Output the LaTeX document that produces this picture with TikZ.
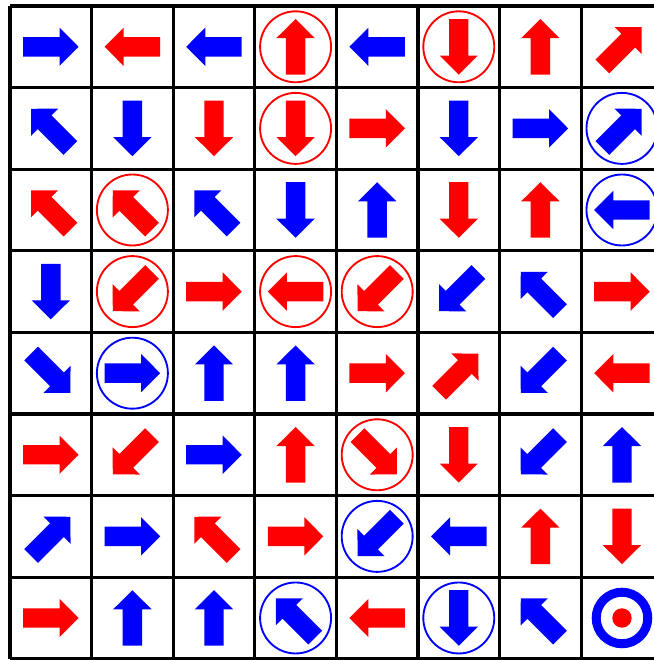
\documentclass[tikz,border=0pt]{standalone}
\usepackage{xcolor}
\usepackage{tikz}
\usetikzlibrary{calc}
\tikzset{
  gridline/.style={line width=1.1pt, black},
  ringline/.style={line width=0.65pt, #1},
  target/.style={line width=0.11cm, blue},
}

\begin{document}
\begin{tikzpicture}
        % Frame
        \useasboundingbox (-0.1225,0.0735) rectangle (7.892,-8.015);
        \fill[white] (-0.1225,0.0735) rectangle (7.892,-8.015);

        % Arrows: column/row/angle/colour/ringed
        \foreach \cx/\ry/\ang/\clr/\hasring in {
            1/1/0/blue/0, 2/1/180/red/0, 3/1/180/blue/0, 4/1/90/red/1,
            5/1/180/blue/0, 6/1/270/red/1, 7/1/90/red/0, 8/1/45/red/0,
            1/2/135/blue/0, 2/2/270/blue/0, 3/2/270/red/0, 4/2/270/red/1,
            5/2/0/red/0, 6/2/270/blue/0, 7/2/0/blue/0, 8/2/45/blue/1,
            1/3/135/red/0, 2/3/135/red/1, 3/3/135/blue/0, 4/3/270/blue/0,
            5/3/90/blue/0, 6/3/270/red/0, 7/3/90/red/0, 8/3/180/blue/1,
            1/4/270/blue/0, 2/4/225/red/1, 3/4/0/red/0, 4/4/180/red/1,
            5/4/225/red/1, 6/4/225/blue/0, 7/4/135/blue/0, 8/4/0/red/0,
            1/5/315/blue/0, 2/5/0/blue/1, 3/5/90/blue/0, 4/5/90/blue/0,
            5/5/0/red/0, 6/5/45/red/0, 7/5/225/blue/0, 8/5/180/red/0,
            1/6/0/red/0, 2/6/225/red/0, 3/6/0/blue/0, 4/6/90/red/0,
            5/6/315/red/1, 6/6/270/red/0, 7/6/225/blue/0, 8/6/90/blue/0,
            1/7/45/blue/0, 2/7/0/blue/0, 3/7/135/red/0, 4/7/0/red/0,
            5/7/225/blue/1, 6/7/180/blue/0, 7/7/90/red/0, 8/7/270/red/0,
            1/8/0/red/0, 2/8/90/blue/0, 3/8/90/blue/0, 4/8/135/blue/1,
            5/8/180/red/0, 6/8/270/blue/1, 7/8/135/blue/0} {
          \fill[\clr, shift={(\cx-0.5,0.5-\ry)}, rotate=\ang]
                (-0.34,-0.119) -- (0.107,-0.119) -- (0.107,-0.235) -- (0.34,0)
                -- (0.107,0.235) -- (0.107,0.119) -- (-0.34,0.119) -- cycle;
          \ifnum\hasring=1
            \draw[ringline=\clr] (\cx-0.5,0.5-\ry) circle (0.435);
          \fi
        }

        % Target
        \draw[target] (7.5,-7.5) circle (0.316);
        \fill[red] (7.5,-7.5) circle (0.119);

        % Grid
        \draw[gridline] (0,0) grid (8,-8);
      \end{tikzpicture}
\end{document}
